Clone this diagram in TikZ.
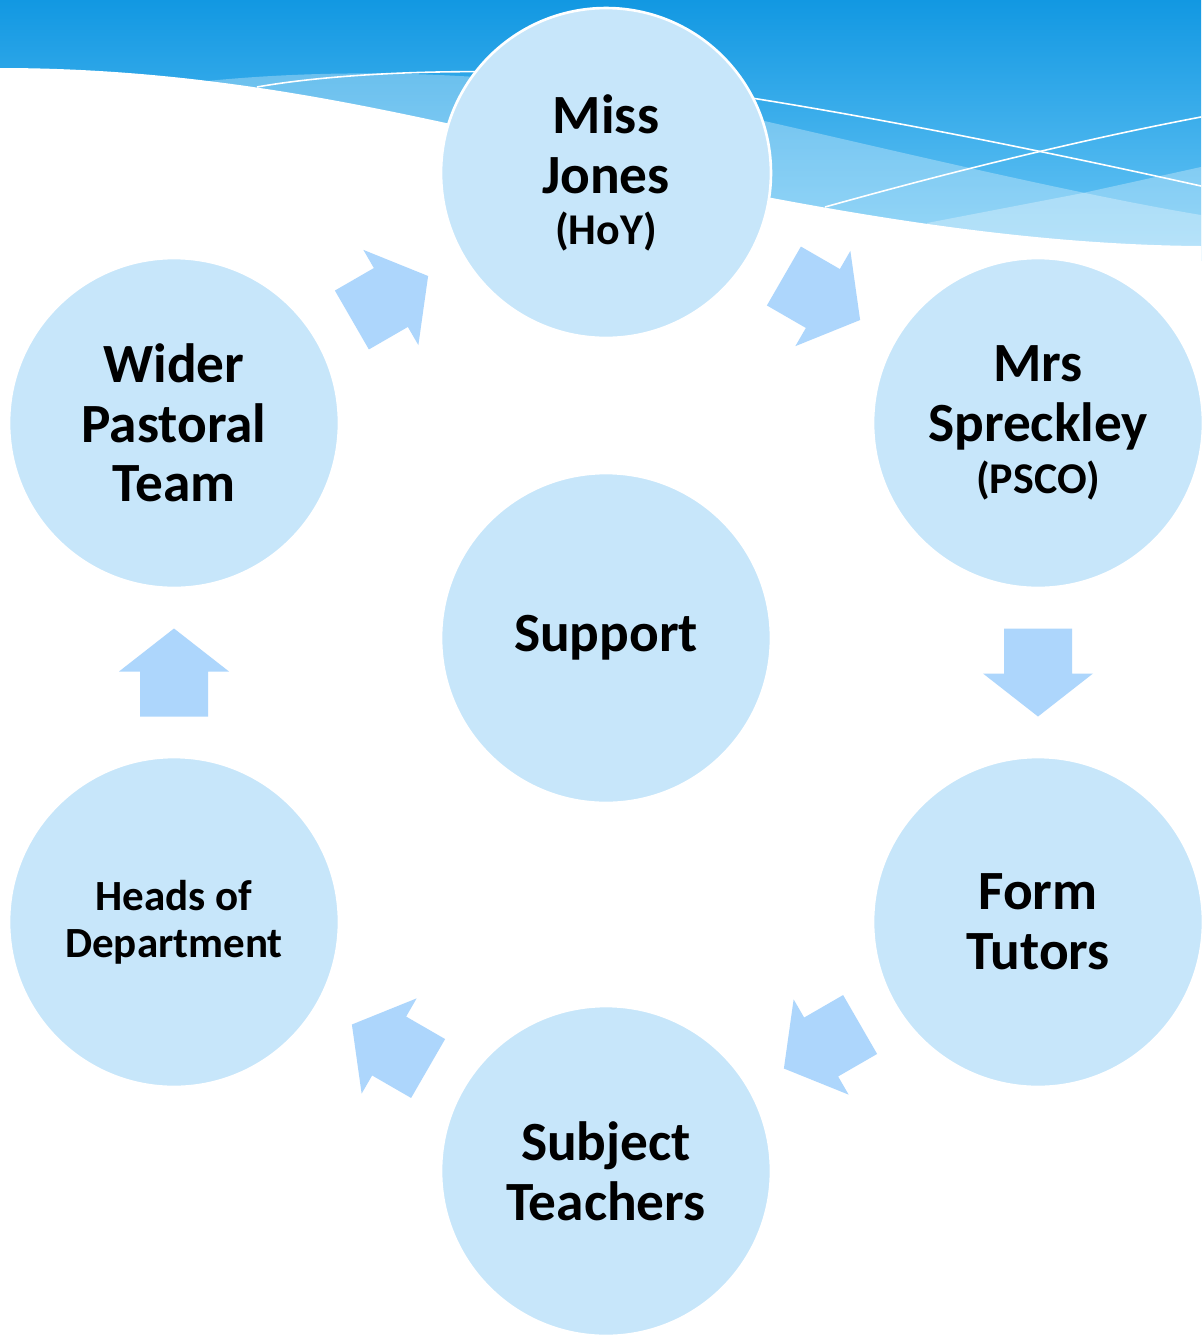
\documentclass[tikz,border=0pt]{standalone}
\usepackage{fontspec}
\setmainfont{Carlito}
\usetikzlibrary{calc}
\definecolor{banntop}{RGB}{18,152,226}
\definecolor{bannbot}{RGB}{110,200,246}
\definecolor{circfill}{RGB}{199,230,250}
\definecolor{arrfill}{RGB}{173,214,252}
\newcommand{\subtxt}[1]{{\fontsize{25}{28}\selectfont #1}}
% block arrow half way between two circles
\newcommand{\cyclearrow}[3]{%
    \fill[blockarrow, shift={($(#1)!0.5!(#2)$)}, rotate=#3]
        (-44,34) -- (1,34) -- (1,55) -- (44,0) -- (1,-55) -- (1,-34) -- (-44,-34) -- cycle;}

\begin{document}
\begin{tikzpicture}[x=0.02cm, y=-0.02cm,
    member/.style={circle, fill=circfill, draw=white, line width=1.5pt, minimum size=6.6cm,
        align=center, font=\bfseries\fontsize{31.5}{34}\selectfont},
    blockarrow/.style={fill=arrfill},
    wave/.style={fill=white, opacity=0.3},
    thinline/.style={draw=white, line width=0.9pt}]
    \useasboundingbox (0,0) rectangle (1201,1336);
    % banner
    \fill[top color=banntop, bottom color=bannbot] (0,0) rectangle (1201,260);
    \fill[wave] (207,81) .. controls (400,62) and (600,80) .. (760,120)
        .. controls (900,152) and (1080,195) .. (1201,215) -- (1201,260) -- (600,260) -- cycle;
    \fill[wave] (927,223) -- (1083,193) -- (1201,167) -- (1201,260) -- (927,260) -- cycle;
    \draw[thinline] (257,87) .. controls (330,74) and (450,68) .. (560,74)
        .. controls (700,84) and (950,130) .. (1201,186);
    \draw[thinline] (825,207) .. controls (950,172) and (1080,140) .. (1201,117);
    \fill[white] (0,68) .. controls (180,68) and (330,98) .. (446,123)
        .. controls (560,148) and (660,180) .. (772,198)
        .. controls (900,222) and (1050,245) .. (1201,246) -- (1201,1336) -- (0,1336) -- cycle;
    % circles
    \node[member] (jones) at (606,173) {Miss\\Jones\\[-5pt]\subtxt{(HoY)}};
    \node[member] (spreck) at (1038,423) {Mrs\\Spreckley\\[-4pt]\subtxt{(PSCO)}};
    \node[member] (tutors) at (1038,922) {Form\\Tutors};
    \node[member] (subject) at (606,1171) {Subject\\Teachers};
    \node[member, font=\bfseries\fontsize{24.5}{27}\selectfont] (heads) at (174,922) {Heads of\\Department};
    \node[member] (wider) at (174,423) {Wider\\Pastoral\\Team};
    \node[member] (support) at (606,638) {Support};
    % arrows
    \cyclearrow{jones}{spreck}{-30}
    \cyclearrow{spreck}{tutors}{-90}
    \cyclearrow{tutors}{subject}{-150}
    \cyclearrow{subject}{heads}{150}
    \cyclearrow{heads}{wider}{90}
    \cyclearrow{wider}{jones}{30}
\end{tikzpicture}
\end{document}
